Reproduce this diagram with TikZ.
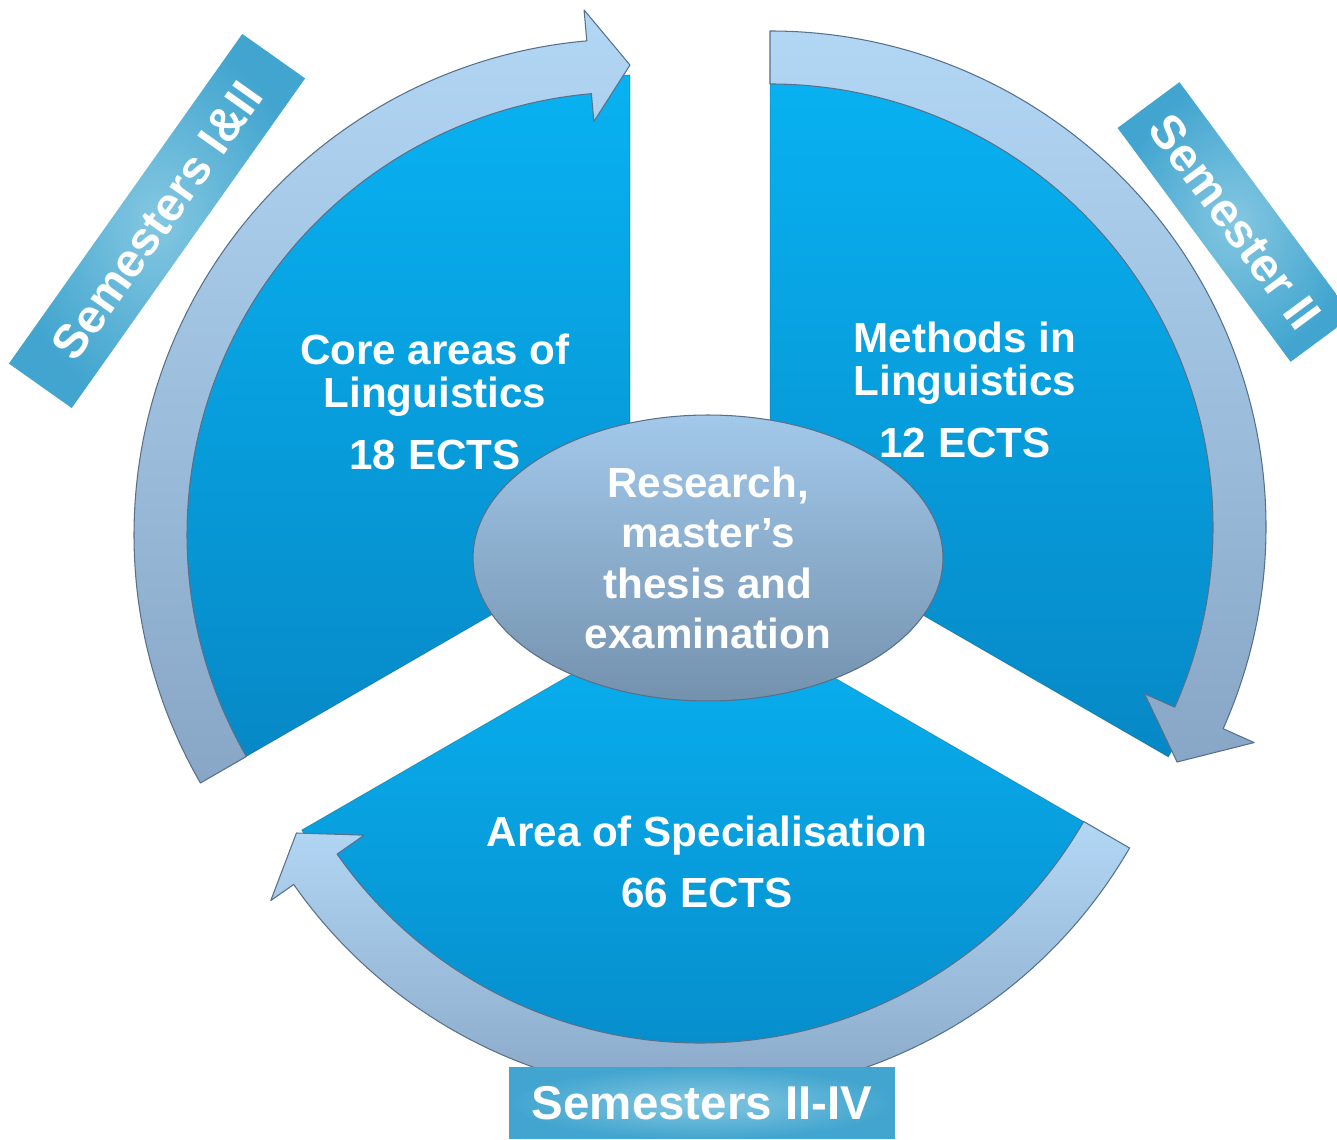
\documentclass[tikz,border=0pt]{standalone}
\usepackage{fontspec}
\setmainfont{Liberation Sans}
\usepackage{tikz}
\usepackage{xcolor}
\usetikzlibrary{shapes.geometric}

\definecolor{wedgetop}{RGB}{8,178,242}
\definecolor{wedgebot}{RGB}{7,136,198}
\definecolor{bandtop}{RGB}{178,215,245}
\definecolor{bandbot}{RGB}{136,166,198}
\definecolor{bandline}{RGB}{88,112,138}
\definecolor{hubtop}{RGB}{162,200,234}
\definecolor{hubbot}{RGB}{116,146,174}
\definecolor{tagin}{RGB}{132,199,225}
\definecolor{tagout}{RGB}{66,165,207}

\begin{document}
\begin{tikzpicture}[x=0.02cm, y=0.02cm,
  wedge/.style={top color=wedgetop, bottom color=wedgebot, draw=black, draw opacity=0.2, line width=0.4pt},
  band/.style={top color=bandtop, bottom color=bandbot, draw=bandline, line width=0.6pt, line join=round},
  hub/.style={ellipse, top color=hubtop, bottom color=hubbot, draw=bandline, line width=0.6pt,
    minimum width=9.4cm, minimum height=5.72cm, inner sep=0pt, align=center, text=white,
    font=\fontsize{24}{28.8}\selectfont\bfseries},
  blurb/.style={text=white, align=center, font=\fontsize{24}{24.5}\selectfont\bfseries},
  tag/.style={rectangle, inner color=tagin, outer color=tagout, text=white, inner sep=0pt,
    minimum height=1.54cm, font=\fontsize{27}{30}\selectfont\bfseries}]
\useasboundingbox (0,0) rectangle (1337,1139);

% pie centres
\coordinate (L) at (630,604);
\coordinate (R) at (770,612);
\coordinate (B) at (700,539);

% three wedges
\path[wedge, shift={(L)}] (0,0) -- (90:460) arc[start angle=90, end angle=210, radius=460] -- cycle;
\path[wedge, shift={(R)}] (0,0) -- (-30:460) arc[start angle=-30, end angle=90, radius=460] -- cycle;
\path[wedge, shift={(B)}] (0,0) -- (210:460) arc[start angle=210, end angle=330, radius=460] -- cycle;

% curved arrows
\path[band, shift={(L)}] (210:443) arc[start angle=210, end angle=95, radius=443]
  -- (95:415) -- (90:470) -- (95:527) -- (95:496) arc[start angle=95, end angle=210, radius=496] -- cycle;
\path[band, shift={(R)}] (90:443) arc[start angle=90, end angle=-24, radius=443]
  -- (-24:410) -- (-30:470) -- (-24:530) -- (-24:496) arc[start angle=-24, end angle=90, radius=496] -- cycle;
\path[band, shift={(B)}] (330:443) arc[start angle=330, end angle=215, radius=443]
  -- (215:410) -- (210:466) -- (215:524) -- (215:496) arc[start angle=215, end angle=330, radius=496] -- cycle;

% wedge texts
\node[blurb] (core) at (435,737) {Core areas of\\Linguistics\\[10.8pt]18 ECTS};
\node[blurb] (methods) at (965,749) {Methods in\\Linguistics\\[10.8pt]12 ECTS};
\node[blurb] (area) at (707,277) {Area of Specialisation\\[10.2pt]66 ECTS};

% centre
\node[hub] (hub) at (708,581) {Research,\\master’s\\thesis and\\examination};

% semester tags
\node[tag, minimum width=8.08cm, rotate=54.7] (semA) at (157,918) {Semesters I\&II};
\node[tag, minimum width=5.82cm, rotate=-53.5] (semB) at (1235,917) {Semester II};
\node[tag, minimum width=7.72cm, minimum height=1.44cm] (semC) at (702,36) {Semesters II-IV};
\end{tikzpicture}
\end{document}
